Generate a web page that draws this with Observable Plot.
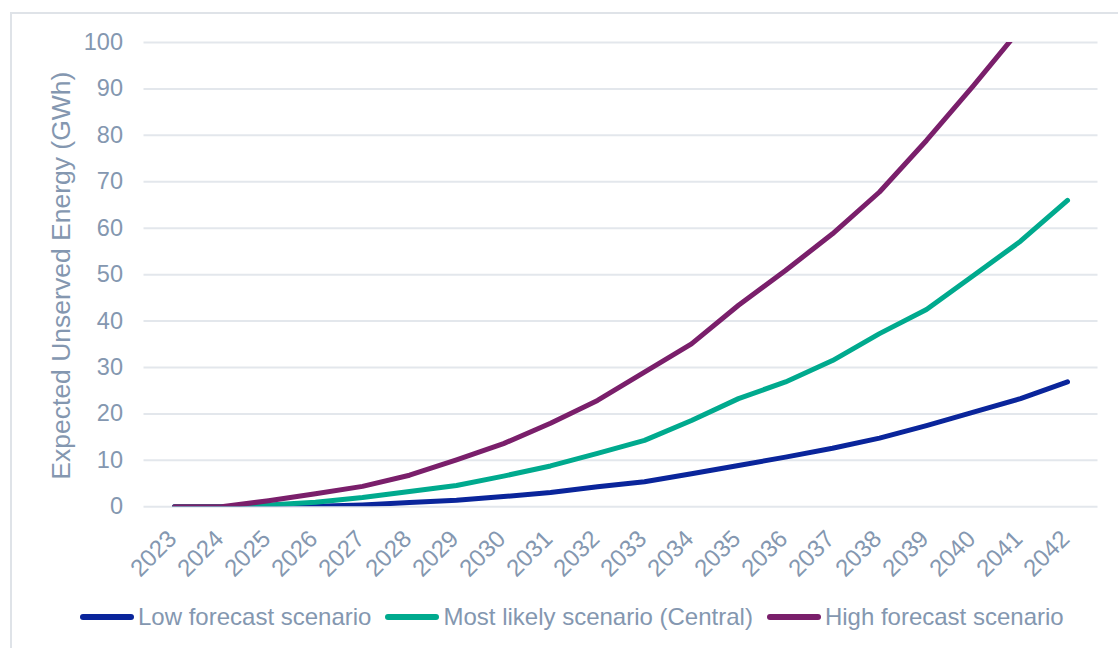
<!DOCTYPE html>
<html>
<head>
<meta charset="utf-8">
<script src="https://cdn.jsdelivr.net/npm/d3@7"></script>
<script src="https://cdn.jsdelivr.net/npm/@observablehq/plot@0.6"></script>
<style>
  html, body { margin: 0; padding: 0; background: #fff; overflow: hidden; width: 1118px; height: 648px; }
  #frame { position: absolute; left: 10px; top: 12px; width: 2000px; height: 2000px; border: 2px solid #dfe3e8; box-sizing: border-box; }
  #chart { position: absolute; left: 0; top: 0; }
  #legend { position: absolute; left: 80px; top: 603px; display: flex; align-items: center; font-family: "Liberation Sans", Arial, sans-serif; font-size: 24px; color: #8497B0; white-space: nowrap; }
  .item { display: flex; align-items: center; margin-right: 14px; }
  .sw { display: inline-block; width: 54px; height: 6px; border-radius: 3px; margin-right: 4px; }
</style>
</head>
<body>
<div id="frame"></div>
<div id="chart"></div>
<div id="legend"></div>
<script>
const years = ["2023","2024","2025","2026","2027","2028","2029","2030","2031","2032","2033","2034","2035","2036","2037","2038","2039","2040","2041","2042"];
const lowForecast = [0, 0, 0, 0.1, 0.4, 0.9, 1.4, 2.2, 3.1, 4.3, 5.4, 7.1, 8.9, 10.7, 12.6, 14.8, 17.5, 20.4, 23.3, 26.9];
const mostLikely = [0, 0, 0.4, 1.0, 2.0, 3.3, 4.6, 6.6, 8.8, 11.5, 14.3, 18.6, 23.3, 26.9, 31.5, 37.3, 42.5, 49.8, 57.2, 66.0];
const highForecast = [0, 0, 1.3, 2.8, 4.4, 6.8, 10.1, 13.6, 18.0, 22.9, 29.0, 35.1, 43.4, 50.9, 58.8, 67.8, 78.9, 90.7, 103, null];
const seriesNames = ["Low forecast scenario", "Most likely scenario (Central)", "High forecast scenario"];
const seriesColors = ["#0a259b", "#00aa8e", "#7a1f6b"];
const yTicks = [0, 10, 20, 30, 40, 50, 60, 70, 80, 90, 100];
const yLabel = "Expected Unserved Energy (GWh)";

const seriesValues = [lowForecast, mostLikely, highForecast];
const rows = [];
seriesNames.forEach((name, i) => {
  years.forEach((yr, j) => {
    const v = seriesValues[i][j];
    rows.push({series: name, year: yr, value: v == null ? NaN : v});
  });
});

const textColor = "#8497B0";
const chart = Plot.plot({
  width: 1118,
  height: 580,
  marginTop: 42,
  marginBottom: 73.7,
  marginLeft: 143.5,
  marginRight: 20.5,
  style: {fontFamily: "'Liberation Sans', Arial, sans-serif", color: textColor, background: "transparent", overflow: "visible"},
  x: {type: "point", domain: years, padding: 0.5},
  y: {domain: [0, 100]},
  color: {domain: seriesNames, range: seriesColors},
  marks: [
    Plot.gridY(yTicks, {stroke: "#e3e7ec", strokeOpacity: 1, strokeWidth: 2}),
    Plot.axisY(yTicks, {tickSize: 0, tickPadding: 21, fontSize: 23.5, label: null, fill: textColor}),
    Plot.axisX({tickSize: 0, tickRotate: -45, tickPadding: 28, dx: -2, fontSize: 24, label: null, fill: textColor}),
    Plot.lineY(rows, {x: "year", y: "value", z: "series", stroke: "series", strokeWidth: 5, strokeLinecap: "round", strokeLinejoin: "round", clip: true}),
    Plot.text([yLabel], {frameAnchor: "left", textAnchor: "middle", rotate: -90, dx: -82, dy: 1, fontSize: 26.5, fill: textColor})
  ]
});
document.getElementById("chart").appendChild(chart);

const legend = document.getElementById("legend");
seriesNames.forEach((name, i) => {
  const item = document.createElement("div");
  item.className = "item";
  const sw = document.createElement("span");
  sw.className = "sw";
  sw.style.background = seriesColors[i];
  const label = document.createElement("span");
  label.textContent = name;
  item.appendChild(sw);
  item.appendChild(label);
  legend.appendChild(item);
});
</script>
</body>
</html>
